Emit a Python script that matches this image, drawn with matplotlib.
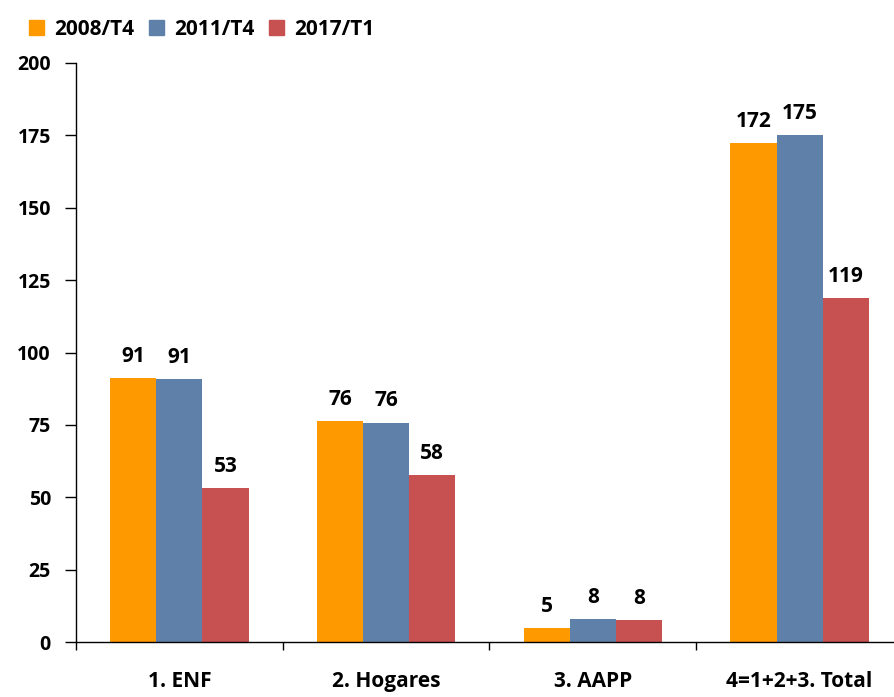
import numpy as np
import matplotlib
matplotlib.use('Agg')
import matplotlib.pyplot as plt
from matplotlib.patches import Patch

plt.rcParams['font.family'] = ['Open Sans', 'DejaVu Sans']
plt.rcParams['font.weight'] = 'bold'

categories = ['1. ENF', '2. Hogares', '3. AAPP', '4=1+2+3. Total']
series = ['2008/T4', '2011/T4', '2017/T1']
v2008 = [91.2, 76.3, 4.9, 172.4]
v2011 = [90.9, 75.8, 8.0, 175.1]
v2017 = [53.2, 57.6, 7.6, 118.9]
colors = ['#FF9900', '#5E80A9', '#C75050']

fig = plt.figure(figsize=(8.95, 6.97), dpi=100)
ax = fig.add_axes([76/895, 1-642/697, 827/895, (642-63)/697])

x = np.arange(len(categories))
w = 0.223
for i, (vals, col) in enumerate(zip([v2008, v2011, v2017], colors)):
    xs = x + (i-1)*w
    ax.bar(xs, vals, width=w, color=col, linewidth=0)
    for xi, v in zip(xs, vals):
        ax.annotate('%.0f' % v, xy=(xi, v), xytext=(0, 8), textcoords='offset points',
                    ha='center', va='bottom', fontsize=15, fontweight='bold')

ax.set_xlim(-0.5, 3.5)
ax.set_ylim(0, 200)
ax.set_yticks(np.arange(0, 201, 25))
# category boundaries get the tick marks, names sit in between
ax.set_xticks(np.arange(-0.5, 3.6, 1))
ax.set_xticklabels([])
ax.set_xticks(x, minor=True)
ax.set_xticklabels(categories, minor=True, fontsize=15, fontweight='bold')
ax.tick_params(axis='x', which='minor', length=0, pad=21)
ax.tick_params(axis='x', which='major', length=6, direction='out', width=1)
ax.tick_params(axis='y', length=8, direction='out', width=1, labelsize=14, pad=10)
for lab in ax.get_yticklabels():
    lab.set_fontweight('bold')
ax.spines['top'].set_visible(False)
ax.spines['right'].set_visible(False)
ax.spines['left'].set_linewidth(1)
ax.spines['bottom'].set_linewidth(1)

handles = [Patch(color=c, label=s) for c, s in zip(colors, series)]
fig.legend(handles=handles, loc='upper left', bbox_to_anchor=(0.012, 1.0), ncol=3,
           frameon=False, handlelength=0.7, handleheight=0.7, handletextpad=0.5,
           columnspacing=0.7, prop={'size': 15, 'weight': 'bold'})

fig.savefig('out.png', dpi=100)
